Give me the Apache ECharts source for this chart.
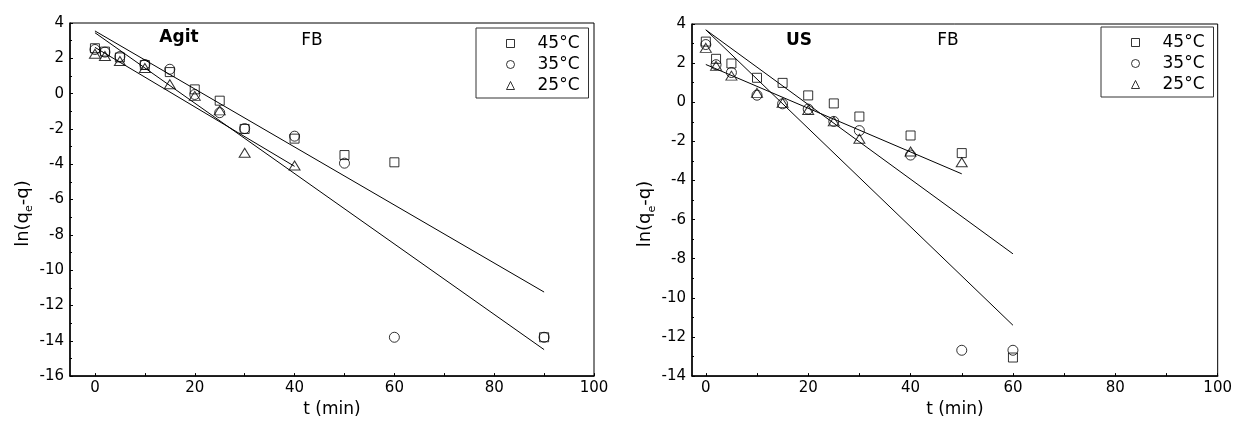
<!DOCTYPE html>
<html>
<head>
<meta charset="utf-8">
<script src="https://cdn.jsdelivr.net/npm/echarts@6/dist/echarts.min.js"></script>
<style>
  html, body { margin: 0; padding: 0; background: #fff; }
  #chart { width: 1235px; height: 423px; }
</style>
</head>
<body>
<div id="chart"></div>
<script>
// Pseudo-first-order kinetics, ln(qe - q) versus time, for FB at three temperatures.

// Agitation (left panel)
const agitTime = [0, 2, 5, 10, 15, 20, 25, 30, 40, 50, 60, 90];
const agit45 = [2.57, 2.38, 2.05, 1.62, 1.22, 0.24, -0.40, -2.00, -2.55, -3.48, -3.89, -13.80];
const agit35 = [2.50, 2.35, 2.10, 1.65, 1.38, -0.05, -1.08, -1.98, -2.41, -3.94, -13.80, -13.80];
const agit25 = [2.26, 2.13, 1.85, 1.45, 0.53, -0.13, -0.95, -3.35, -4.07, null, null, null];
const agitFitA = [[0, 3.55], [90, -11.24]];
const agitFitB = [[0, 3.45], [90, -14.50]];
const agitFitC = [[0, 2.62], [40, -4.12]];

// Ultrasound (right panel)
const usTime = [0, 2, 5, 10, 15, 20, 25, 30, 40, 50, 60];
const us45 = [3.10, 2.22, 1.98, 1.25, 0.99, 0.35, -0.06, -0.73, -1.70, -2.60, -13.05];
const us35 = [2.95, 1.92, 1.52, 0.36, -0.08, -0.35, -0.98, -1.45, -2.70, -12.68, -12.68];
const us25 = [2.78, 1.86, 1.36, 0.48, -0.03, -0.40, -0.98, -1.87, -2.52, -3.07, null];
const usFitA = [[0, 3.70], [60, -7.75]];
const usFitB = [[0, 3.70], [60, -11.40]];
const usFitC = [[0, 1.93], [50, -3.66]];

const seriesNames = ['45°C', '35°C', '25°C'];
const xLabelValues = [0, 20, 40, 60, 80, 100];
const xTickValues = [0, 10, 20, 30, 40, 50, 60, 70, 80, 90, 100];

const FONT = 'DejaVu Sans';

function pairs(xs, ys) {
  const out = [];
  xs.forEach((x, i) => { if (ys[i] !== null) out.push([x, ys[i]]); });
  return out;
}

function xAxisFor(gridIndex, min) {
  return {
    type: 'value', gridIndex: gridIndex, min: min, max: 100,
    name: 't (min)', nameLocation: 'middle', nameGap: 21,
    nameTextStyle: { fontSize: 17, color: '#000', fontFamily: FONT },
    axisLine: { show: true, onZero: false, lineStyle: { color: '#000', width: 1.5 } },
    axisTick: { show: true, inside: true, length: 3, customValues: xTickValues,
                lineStyle: { color: '#000', width: 1 } },
    axisLabel: { customValues: xLabelValues, margin: 5, fontSize: 15, color: '#000', fontFamily: FONT },
    splitLine: { show: false }
  };
}

function yAxisFor(gridIndex, min, nameGap) {
  return {
    type: 'value', gridIndex: gridIndex, min: min, max: 4, interval: 2,
    name: '{a|ln(q}{s|e}{a|-q)}', nameLocation: 'middle', nameGap: nameGap,
    nameTextStyle: {
      color: '#000', fontFamily: FONT, padding: [0, 28, 0, 0],
      rich: {
        a: { fontSize: 18, fontFamily: FONT, color: '#000', lineHeight: 18, verticalAlign: 'bottom' },
        s: { fontSize: 11, fontFamily: FONT, color: '#000', lineHeight: 12, verticalAlign: 'bottom', padding: [0, 0, -3, 0] }
      }
    },
    axisLine: { show: true, onZero: false, lineStyle: { color: '#000', width: 1.5 } },
    axisTick: { show: true, inside: true, length: 3, lineStyle: { color: '#000', width: 1 } },
    minorTick: { show: true, splitNumber: 2, length: 2, lineStyle: { color: '#000', width: 1 } },
    axisLabel: { margin: 6, fontSize: 15, color: '#000', fontFamily: FONT },
    splitLine: { show: false }
  };
}

const markerStyle = { color: 'rgba(0,0,0,0)', borderColor: '#000', borderWidth: 1 };
const markers = [
  { symbol: 'rect', symbolSize: 9 },
  { symbol: 'circle', symbolSize: 10 },
  { symbol: 'triangle', symbolSize: [11, 9] }
];

function scatterSet(idx, xs, groups) {
  return groups.map((ys, k) => ({
    type: 'scatter', name: seriesNames[k], xAxisIndex: idx, yAxisIndex: idx,
    symbol: markers[k].symbol, symbolSize: markers[k].symbolSize,
    itemStyle: markerStyle, data: pairs(xs, ys), z: 3,
    emphasis: { disabled: true }
  }));
}

function fitSet(idx, fits) {
  return fits.map(pts => ({
    type: 'line', xAxisIndex: idx, yAxisIndex: idx, data: pts,
    symbol: 'none', silent: true, z: 2,
    lineStyle: { color: '#000', width: 1 },
    emphasis: { disabled: true }
  }));
}

function legendFor(left, top) {
  return {
    left: left, top: top, orient: 'vertical', data: seriesNames,
    itemWidth: 8, itemHeight: 8, itemGap: 4,
    padding: [7, 9, 4, 30],
    borderColor: '#333', borderWidth: 1,
    selectedMode: false,
    itemStyle: { borderWidth: 1, borderColor: '#000' },
    textStyle: { fontSize: 17, color: '#000', fontFamily: FONT, padding: [0, 0, 0, 18] }
  };
}

function label(text, x, y, bold) {
  return {
    type: 'text', x: x, y: y, silent: true,
    style: { text: text, fill: '#000', align: 'center', verticalAlign: 'middle',
             font: (bold ? 'bold ' : '') + '17px "' + FONT + '"' }
  };
}

const chart = echarts.init(document.getElementById('chart'), null, { renderer: 'canvas' });
chart.setOption({
  animation: false,
  backgroundColor: '#fff',
  grid: [
    { left: 70, top: 23, width: 524, height: 360, show: true, borderColor: '#000', borderWidth: 1 },
    { left: 692, top: 24, width: 528, height: 359, show: true, borderColor: '#000', borderWidth: 1 }
  ],
  xAxis: [xAxisFor(0, -5), xAxisFor(1, -2.7)],
  yAxis: [yAxisFor(0, -16, 38), yAxisFor(1, -14, 26)],
  legend: [legendFor(476, 28), legendFor(1101, 27)],
  graphic: [
    label('Agit', 179, 38, true),
    label('FB', 312, 41, false),
    label('US', 799, 41, true),
    label('FB', 948, 41, false)
  ],
  series: [
    ...fitSet(0, [agitFitA, agitFitB, agitFitC]),
    ...scatterSet(0, agitTime, [agit45, agit35, agit25]),
    ...fitSet(1, [usFitA, usFitB, usFitC]),
    ...scatterSet(1, usTime, [us45, us35, us25])
  ]
});
</script>
</body>
</html>
